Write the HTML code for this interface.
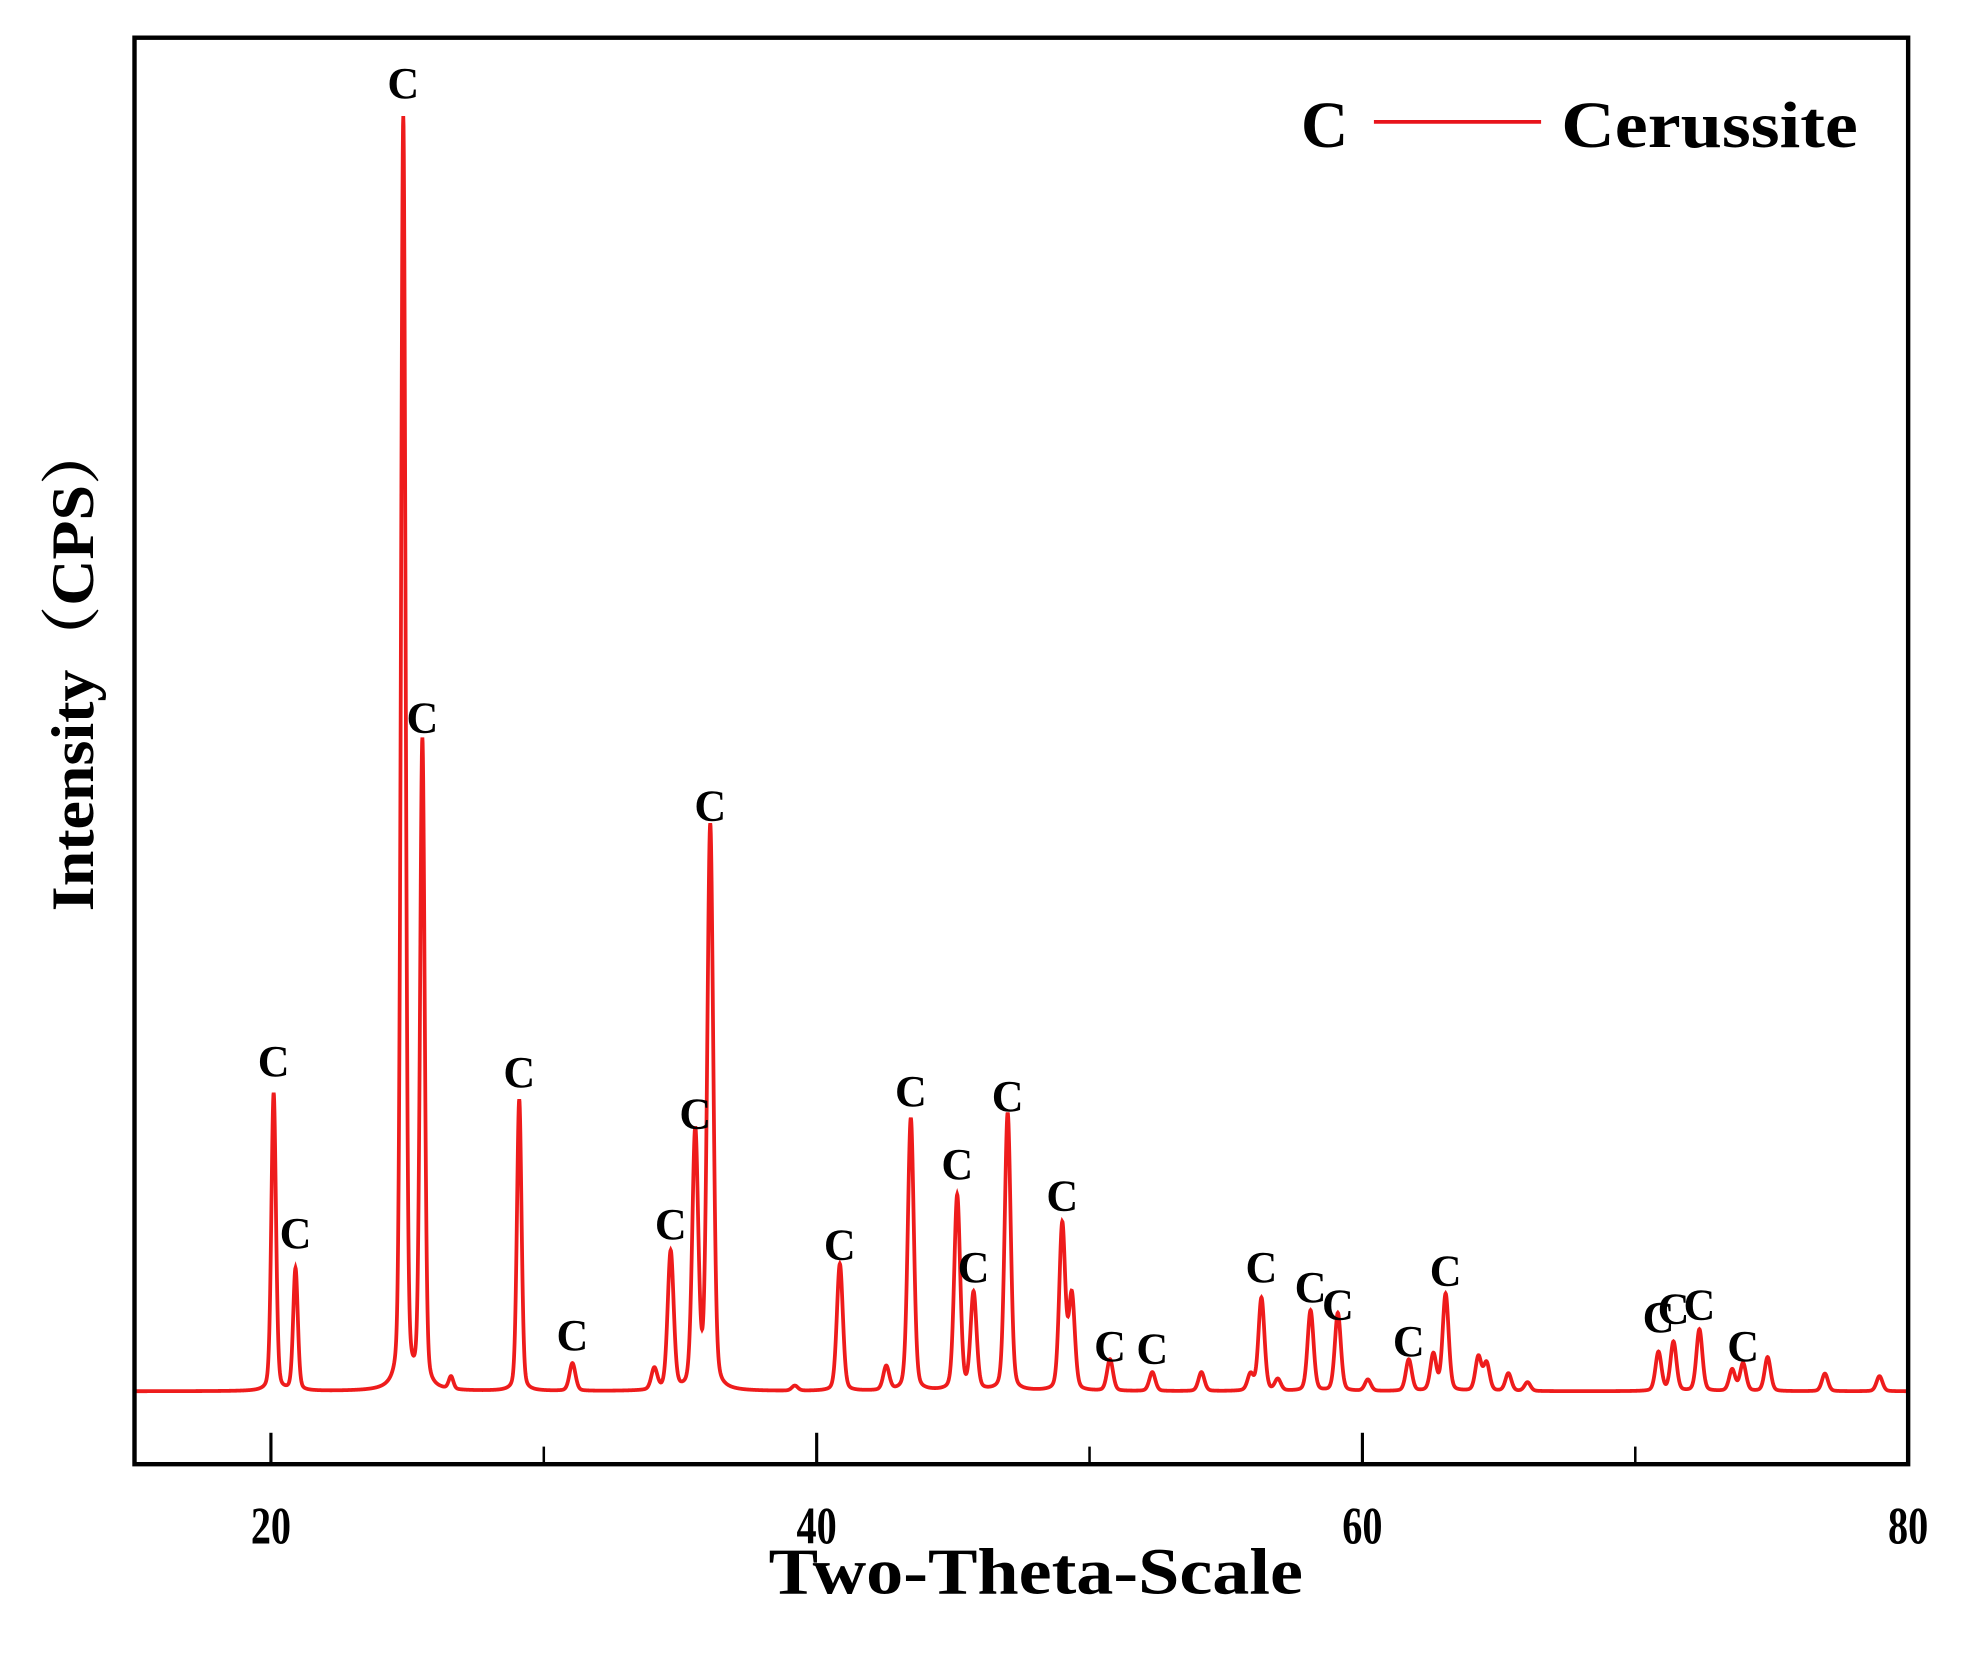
<!DOCTYPE html>
<html><head><meta charset="utf-8"><title>XRD Cerussite</title>
<style>html,body{margin:0;padding:0;background:#fff}svg{display:block}text{font-family:"Liberation Serif","Noto Serif CJK SC",serif;font-weight:bold;fill:#000}</style>
</head><body>
<svg id="chart" width="1971" height="1659" viewBox="0 0 1568 1320" preserveAspectRatio="none" xmlns="http://www.w3.org/2000/svg">
<g id="plot"></g>
<rect x="107" y="30" width="1411" height="1135" fill="none" stroke="#000" stroke-width="3.5"/>
<g id="ticks"></g>
<text x="824" y="1268" font-size="52" text-anchor="middle" textLength="425" lengthAdjust="spacingAndGlyphs">Two-Theta-Scale</text>
<text transform="translate(74,530) rotate(-90)" font-size="48" text-anchor="middle" textLength="390" lengthAdjust="spacingAndGlyphs">Intensity（CPS）</text>
<g>
<text x="1035" y="117" font-size="52">C</text>
<line x1="1093" y1="97" x2="1226" y2="97" stroke="#e8141b" stroke-width="3"/>
<text x="1242" y="117" font-size="52" textLength="236" lengthAdjust="spacingAndGlyphs">Cerussite</text>
</g>
</svg>
<script>
const peakPositions=[20.1,20.9,24.85,25.55,26.6,29.1,31.05,34.05,34.65,35.55,36.1,39.2,40.85,42.55,43.45,45.15,45.75,47.0,49.0,49.35,50.75,52.3,54.1,55.9,56.3,56.9,58.1,59.1,60.2,61.7,62.6,63.05,64.25,64.55,65.35,66.05,70.85,71.4,72.35,73.55,73.95,74.85,76.95,78.95];
const peakIntensities=[237,97,1012,515,10,232,22,17,110,204,449,4,101,19,217,155,77,221,132,75,25,15,15,13,74,9,64,62,9,25,29,77,27,22,14,7,31,39,49,17,22,27,14,12];
const labelPositions=[20.1,20.9,24.85,25.55,29.1,31.05,34.65,35.55,36.1,40.85,43.45,45.15,45.75,47.0,49.0,50.75,52.3,56.3,58.1,59.1,61.7,63.05,70.85,71.4,72.35,73.95];
const labelIntensities=[264,127,1042,537,255,46,134,222,467,118,240,182,100,236,157,37,35,100,84,70,41,97,60,67,70,37];
const xTicks=[20,40,60,80];
const xMinorTicks=[30,50,70];
const xMin=15,xMax=80,yMin=-58,yMax=1077;
const NS='http://www.w3.org/2000/svg';
function xs(v){return 107+(v-xMin)/(xMax-xMin)*1411;}
function ys(v){return 1165-(v-yMin)/(yMax-yMin)*1135;}
const plot=document.getElementById('plot');
let d='';
for(let t=xMin;t<=xMax+1e-9;t+=0.01){
  let s=0;
  for(let i=0;i<peakPositions.length;i++){
    const w=peakPositions[i]<30?0.1:0.13;
    const dx=(t-peakPositions[i])/w;
    s+=peakIntensities[i]*(0.75*Math.exp(-dx*dx*0.693)+0.25/(1+dx*dx));
  }
  d+=(d?'L':'M')+xs(t).toFixed(2)+','+ys(s).toFixed(2);
}
const path=document.createElementNS(NS,'path');
path.setAttribute('d',d);
path.setAttribute('fill','none');
path.setAttribute('stroke','#ee1c1c');
path.setAttribute('stroke-width','3');


plot.appendChild(path);
for(let i=0;i<labelPositions.length;i++){
  const tx=document.createElementNS(NS,'text');
  tx.setAttribute('x',xs(labelPositions[i]).toFixed(1));
  tx.setAttribute('y',(ys(labelIntensities[i])+13).toFixed(1));
  tx.setAttribute('font-size','35');
  tx.setAttribute('text-anchor','middle');
  tx.textContent='C';
  
  
  plot.appendChild(tx);
}
const ticks=document.getElementById('ticks');
xTicks.forEach(v=>{
  const l=document.createElementNS(NS,'line');
  l.setAttribute('x1',xs(v));l.setAttribute('x2',xs(v));
  l.setAttribute('y1',1165);l.setAttribute('y2',1140);
  l.setAttribute('stroke','#000');l.setAttribute('stroke-width','2.5');
  
  
  ticks.appendChild(l);
  const tx=document.createElementNS(NS,'text');
  tx.setAttribute('x',xs(v));tx.setAttribute('y',1228);
  tx.setAttribute('font-size','42');tx.setAttribute('text-anchor','middle');
  tx.setAttribute('textLength','32');tx.setAttribute('lengthAdjust','spacingAndGlyphs');
  tx.textContent=v;
  
  
  ticks.appendChild(tx);
});
xMinorTicks.forEach(v=>{
  const l=document.createElementNS(NS,'line');
  l.setAttribute('x1',xs(v));l.setAttribute('x2',xs(v));
  l.setAttribute('y1',1165);l.setAttribute('y2',1151);
  l.setAttribute('stroke','#000');l.setAttribute('stroke-width','2');
  
  
  ticks.appendChild(l);
});
</script>
</body></html>
